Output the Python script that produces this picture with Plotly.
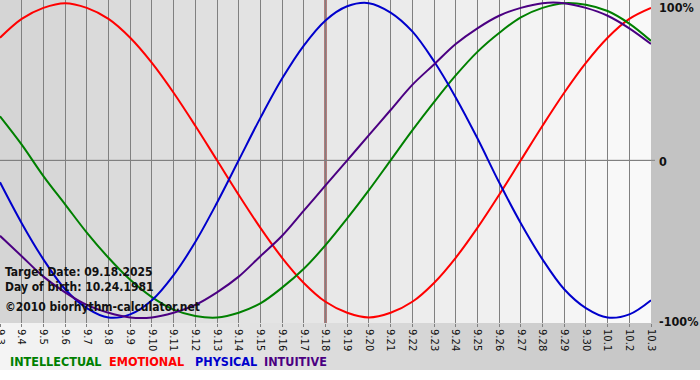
import plotly.graph_objects as go

# ---- data ----
dates = ["9.3", "9.4", "9.5", "9.6", "9.7", "9.8", "9.9", "9.10", "9.11", "9.12",
         "9.13", "9.14", "9.15", "9.16", "9.17", "9.18", "9.19", "9.20", "9.21", "9.22",
         "9.23", "9.24", "9.25", "9.26", "9.27", "9.28", "9.29", "9.30", "10.1", "10.2", "10.3"]

intellectual = [0.28, 0.10, -0.10, -0.28, -0.46, -0.62, -0.76, -0.87, -0.95, -0.99,
                -1.00, -0.97, -0.91, -0.81, -0.69, -0.54, -0.37, -0.19, 0.00, 0.19,
                0.37, 0.54, 0.69, 0.81, 0.91, 0.97, 1.00, 0.99, 0.95, 0.87, 0.76]
emotional = [0.78, 0.90, 0.97, 1.00, 0.97, 0.90, 0.78, 0.62, 0.43, 0.22,
             0.00, -0.22, -0.43, -0.62, -0.78, -0.90, -0.97, -1.00, -0.97, -0.90,
             -0.78, -0.62, -0.43, -0.22, 0.00, 0.22, 0.43, 0.62, 0.78, 0.90, 0.97]
physical = [-0.14, -0.40, -0.63, -0.82, -0.94, -1.00, -0.98, -0.89, -0.73, -0.52,
            -0.27, 0.00, 0.27, 0.52, 0.73, 0.89, 0.98, 1.00, 0.94, 0.82,
            0.63, 0.40, 0.14, -0.14, -0.40, -0.63, -0.82, -0.94, -1.00, -0.98, -0.89]
intuitive = [-0.48, -0.61, -0.74, -0.84, -0.92, -0.97, -1.00, -1.00, -0.97, -0.92,
             -0.84, -0.74, -0.61, -0.48, -0.32, -0.16, 0.00, 0.16, 0.32, 0.48,
             0.61, 0.74, 0.84, 0.92, 0.97, 1.00, 1.00, 0.97, 0.92, 0.84, 0.74]

target_date = "9.18"
info_lines = ["Target Date: 09.18.2025", "Day of birth: 10.24.1981", "©2010 biorhythm-calculator.net"]
right_labels = ["100%", "0", "-100%"]
right_values = [1, 0, -1]

series = [
    ("INTELLECTUAL", intellectual, "#008000"),
    ("EMOTIONAL", emotional, "#ff0000"),
    ("PHYSICAL", physical, "#0000cc"),
    ("INTUITIVE", intuitive, "#4b0082"),
]

# ---- geometry ----
W, H = 700, 380
PL, PR, PT, PB = 0, 49, 0, 57
PW = W - PL - PR
PH = H - PT - PB


def px_x(px):
    return (px - PL) / PW


def px_y(py):
    return (H - PB - py) / PH


fig = go.Figure()

for name, vals, col in [series[1], series[0], series[2], series[3]]:
    fig.add_trace(go.Scatter(x=dates, y=vals, mode="lines", name=name,
                             line=dict(color=col, width=2, shape="spline", smoothing=1.0),
                             hoverinfo="skip", showlegend=False))

shapes = []
# background columns (gradient left dark -> right light)
n = len(dates) - 1
for i in range(n):
    t = i / (n - 1)
    v = int(round(213 + (249 - 213) * t))
    shapes.append(dict(type="rect", xref="x", yref="paper", x0=i, x1=i + 1, y0=0, y1=1,
                       fillcolor=f"rgb({v},{v},{v})", line=dict(width=0), layer="below"))

# bottom band gradient (paper coords)
strip = 10
for k in range(0, W, strip):
    t = k / W
    v = int(round(244 + (194 - 244) * t))
    shapes.append(dict(type="rect", xref="paper", yref="paper",
                       x0=px_x(k), x1=px_x(k + strip + 1), y0=px_y(370), y1=px_y(H - PB),
                       fillcolor=f"rgb({v},{v},{v})", line=dict(width=0), layer="below"))
# right margin
shapes.append(dict(type="rect", xref="paper", yref="paper", x0=1, x1=px_x(W + 2),
                   y0=0, y1=px_y(-2), fillcolor="rgb(195,195,195)", line=dict(width=0), layer="below"))

# zero line extension
shapes.append(dict(type="line", xref="paper", yref="y", x0=0, x1=px_x(655), y0=0, y1=0,
                   line=dict(color="#808080", width=1), layer="between"))

# target date line (category index)
ti = dates.index(target_date)
shapes.append(dict(type="line", xref="x", yref="paper", x0=ti, x1=ti, y0=0, y1=1,
                   line=dict(color="#7a1212", width=2), layer="between"))

annotations = []
font_txt = "DejaVu Sans Condensed, DejaVu Sans, sans-serif"
for line, ypx in zip(info_lines, [272, 287, 307]):
    annotations.append(dict(text=f"<b>{line}</b>", xref="paper", yref="paper",
                            x=px_x(3), y=px_y(ypx), xanchor="left", yanchor="middle",
                            showarrow=False, font=dict(family=font_txt, size=12, color="#111111")))

for lab, v, ypx in zip(right_labels, right_values, [7, 161, 321]):
    annotations.append(dict(text=f"<b>{lab}</b>", xref="paper", yref="paper",
                            x=px_x(657), y=px_y(ypx), xanchor="left", yanchor="middle",
                            showarrow=False, font=dict(family=font_txt, size=12.5, color="#111111")))

legend_x = [8, 107, 193, 262]
for (name, vals, col), lx in zip(series, legend_x):
    annotations.append(dict(text=f"<b>{name}</b>", xref="paper", yref="paper",
                            x=px_x(lx), y=px_y(361), xanchor="left", yanchor="middle",
                            showarrow=False, font=dict(family=font_txt, size=12.5, color=col)))

fig.update_layout(
    width=W, height=H,
    margin=dict(l=PL, r=PR, t=PT, b=PB, pad=0, autoexpand=False),
    paper_bgcolor="white",
    plot_bgcolor="rgb(230,230,230)",
    shapes=shapes,
    annotations=annotations,
    xaxis=dict(type="category", range=[0, n], showgrid=True, gridcolor="#808080", gridwidth=1,
               ticks="outside", ticklen=3, tickcolor="#808080", tickangle=90, automargin=False,
               tickfont=dict(family="DejaVu Sans, sans-serif", size=10, color="#111111"),
               zeroline=False, showline=False, fixedrange=True),
    yaxis=dict(range=[-1.035, 1.02], side="right", tickvals=right_values, showticklabels=False,
               ticks="", showgrid=False, zeroline=True, zerolinecolor="#808080", zerolinewidth=1,
               showline=False, fixedrange=True, automargin=False),
    showlegend=False,
)

fig.write_html("out.html", config={"displayModeBar": False},
               post_script="document.body.style.margin='0';document.body.style.padding='0';")
